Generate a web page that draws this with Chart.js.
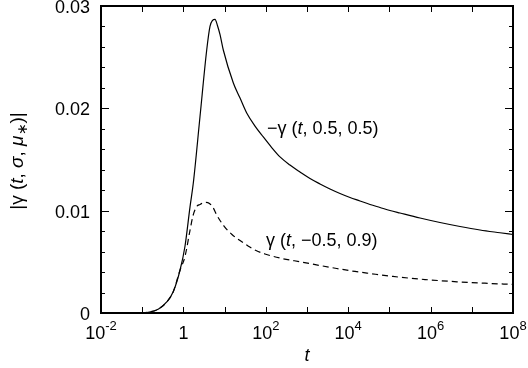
<!DOCTYPE html>
<html>
<head>
<meta charset="utf-8">
<script src="https://cdn.jsdelivr.net/npm/chart.js@4"></script>
<style>
  body { margin: 0; background: #fff; }
  canvas { display: block; }
</style>
</head>
<body>
<canvas id="gammaChart" width="528" height="368"></canvas>
<script>
// values
const tSolid = [0.01, 0.05, 0.09, 0.15, 0.25, 0.4, 0.57, 0.83, 1.09, 1.45, 1.74, 2.53, 3.68, 4.42, 5.1, 5.85, 6.7, 7.75, 9.3, 16.3, 23.7, 34.4, 54.7, 87, 139, 221, 386, 676, 1183, 2070, 3614, 6324, 11070, 19330, 33830, 59150, 103500, 180700, 553000, 1.69e6, 5.18e6, 1.58e7, 4.83e7, 1e8];
const gammaSolid = [0, 0, 0.00003, 0.0001, 0.0004, 0.0011, 0.0021, 0.0042, 0.0065, 0.0104, 0.0127, 0.0192, 0.0257, 0.0280, 0.0286, 0.0287, 0.0281, 0.0272, 0.0257, 0.02248, 0.0210, 0.01954, 0.01827, 0.0172, 0.01617, 0.01525, 0.01446, 0.01378, 0.01314, 0.01261, 0.01212, 0.01168, 0.01129, 0.01095, 0.0106, 0.01031, 0.01002, 0.00977, 0.00928, 0.00884, 0.00845, 0.00811, 0.00784, 0.00767];

const tDashed = [0.01, 0.05, 0.09, 0.15, 0.25, 0.4, 0.57, 0.83, 0.91, 1.09, 1.45, 1.71, 2.10, 2.53, 2.99, 3.54, 4.30, 5.23, 6.43, 9.67, 15.1, 23.7, 37.0, 57.8, 95.6, 243, 743, 2070, 5260, 14620, 33830, 122000, 731000, 4.38e6, 2.09e7, 1e8];
const gammaDashed = [0, 0, 0.00003, 0.0001, 0.0004, 0.0011, 0.0021, 0.0042, 0.0046, 0.0055, 0.0081, 0.0095, 0.0104, 0.0106, 0.01075, 0.01082, 0.0107, 0.01031, 0.00958, 0.0085, 0.00767, 0.00708, 0.00655, 0.00611, 0.00577, 0.00533, 0.00498, 0.00464, 0.00435, 0.00406, 0.00386, 0.00357, 0.00327, 0.00305, 0.00291, 0.00279];

const yTicks = [0, 0.01, 0.02, 0.03];
const yTickLabels = ['0', '0.01', '0.02', '0.03'];
const yMinorStep = 0.002;
const xTickExps = [-2, 0, 2, 4, 6, 8];   // labelled decades
const xDecades = [-2, -1, 0, 1, 2, 3, 4, 5, 6, 7, 8];

const FONT = '"Liberation Sans", Arial, Helvetica, sans-serif';

function toPoints(xs, ys) {
  return xs.map((x, i) => ({x: x, y: ys[i]}));
}

// draw a row of text pieces (some italic / sub / sup)
function drawRich(ctx, parts, x, y, align) {
  let total = 0;
  parts.forEach(p => {
    ctx.font = (p.it ? 'italic ' : '') + p.size + 'px ' + FONT;
    p.w = ctx.measureText(p.t).width;
    total += p.w;
  });
  let cx = x;
  if (align === 'center') cx = x - total / 2;
  if (align === 'right') cx = x - total;
  ctx.textAlign = 'left';
  ctx.textBaseline = 'middle';
  parts.forEach(p => {
    ctx.font = (p.it ? 'italic ' : '') + p.size + 'px ' + FONT;
    ctx.fillText(p.t, cx, y + (p.dy || 0));
    cx += p.w;
  });
}

const framePlugin = {
  id: 'frame',
  afterDraw(chart) {
    const ctx = chart.ctx;
    const a = chart.chartArea;
    const xs = chart.scales.x, ys = chart.scales.y;
    ctx.save();
    ctx.strokeStyle = '#000';
    ctx.fillStyle = '#000';

    // ticks, inward on all four sides
    ctx.lineWidth = 1;
    ctx.beginPath();
    for (let v = 0; v <= 0.03 + 1e-9; v += yMinorStep) {
      const py = Math.round(ys.getPixelForValue(v)) + 0.5;
      const major = yTicks.some(t => Math.abs(t - v) < 1e-9);
      const len = major ? 8 : 4;
      ctx.moveTo(a.left, py); ctx.lineTo(a.left + len, py);
      ctx.moveTo(a.right, py); ctx.lineTo(a.right - len, py);
    }
    xDecades.forEach(e => {
      const px = Math.round(xs.getPixelForValue(Math.pow(10, e))) + 0.5;
      ctx.moveTo(px, a.bottom); ctx.lineTo(px, a.bottom - 6);
      ctx.moveTo(px, a.top); ctx.lineTo(px, a.top + 6);
    });
    ctx.stroke();

    // frame
    ctx.lineWidth = 2;
    ctx.strokeRect(a.left, a.top, a.right - a.left, a.bottom - a.top);

    // y tick labels
    ctx.font = '18px ' + FONT;
    ctx.textAlign = 'right';
    ctx.textBaseline = 'alphabetic';
    yTicks.forEach((v, i) => {
      ctx.fillText(yTickLabels[i], 90, ys.getPixelForValue(v) + 7);
    });

    // x tick labels
    xTickExps.forEach(e => {
      const px = xs.getPixelForValue(Math.pow(10, e));
      if (e === 0) {
        drawRich(ctx, [{t: '1', size: 18}], px, 334, 'center');
      } else {
        const ex = e < 0 ? '-' + (-e) : String(e);
        drawRich(ctx, [{t: '10', size: 18}, {t: ex, size: 13, dy: -8}], px, 334, 'center');
      }
    });

    // axis titles
    drawRich(ctx, [{t: 't', it: true, size: 18}], 307, 356, 'center');
    ctx.save();
    ctx.translate(18, 161);
    ctx.rotate(-Math.PI / 2);
    drawRich(ctx, [
      {t: '|γ (', size: 19}, {t: 't', it: true, size: 19}, {t: ', ', size: 19},
      {t: 'σ', it: true, size: 19}, {t: ', ', size: 19}, {t: 'μ', it: true, size: 19},
      {t: '∗', size: 14, dy: 5}, {t: ')|', size: 19}
    ], 0, 0, 'center');
    ctx.restore();

    // curve labels
    drawRich(ctx, [{t: '−γ (', size: 18}, {t: 't', it: true, size: 18}, {t: ', 0.5, 0.5)', size: 18}], 267, 129, 'left');
    drawRich(ctx, [{t: 'γ (', size: 18}, {t: 't', it: true, size: 18}, {t: ', −0.5, 0.9)', size: 18}], 266, 241, 'left');

    ctx.restore();
  }
};

new Chart(document.getElementById('gammaChart'), {
  type: 'line',
  data: {
    datasets: [
      {
        data: toPoints(tSolid, gammaSolid),
        borderColor: '#000',
        borderWidth: 1.2,
        pointRadius: 0,
        cubicInterpolationMode: 'monotone',
        fill: false
      },
      {
        data: toPoints(tDashed, gammaDashed),
        borderColor: '#000',
        borderWidth: 1.2,
        borderDash: [6, 4],
        pointRadius: 0,
        cubicInterpolationMode: 'monotone',
        fill: false
      }
    ]
  },
  options: {
    responsive: false,
    devicePixelRatio: 1,
    animation: false,
    layout: {padding: {left: 101, right: 15, top: 6, bottom: 55}},
    plugins: {legend: {display: false}, tooltip: {enabled: false}},
    scales: {
      x: {type: 'logarithmic', min: 0.01, max: 1e8, display: false},
      y: {type: 'linear', min: 0, max: 0.03, display: false}
    }
  },
  plugins: [framePlugin]
});
</script>
</body>
</html>
